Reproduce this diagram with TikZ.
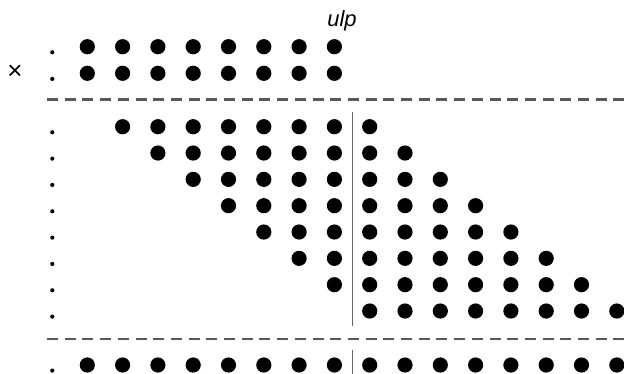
\documentclass[tikz,border=0pt]{standalone}
\usepackage{fontspec}
\setmainfont{Liberation Sans}
\begin{document}
\begin{tikzpicture}[x=1pt,y=-1pt,
  bigdot/.style={fill=black,draw=none},
  smalldot/.style={fill=black,draw=none},
  sepline/.style={draw=black!65,line width=2.2pt,dash pattern=on 11pt off 6.7pt},
  vline/.style={draw=black!60,line width=1.5pt}]
\useasboundingbox (0,0) rectangle (624,374);
% top rows
\foreach \r/\y in {0/46.7,1/73.3}{
  \fill[smalldot] (52.3,\y+5.6) circle (2.1);
  \foreach \c in {0,...,7}{\fill[bigdot] ({87.3+35.3*\c},\y) circle (7.6);}
}
\node[font=\fontsize{22}{22}\selectfont\itshape,inner sep=0pt] (ulp) at (342,20.5) {ulp};
\node[font=\fontsize{26}{26}\selectfont,inner sep=0pt] (times) at (15,72) {×};
% upper separator
\draw[sepline] (47,99.5) -- (624,99.5);
% middle rows
\foreach \k in {0,...,7}{
  \pgfmathsetmacro{\y}{126.7+26.33*\k}
  \fill[smalldot] (52.3,\y+5.6) circle (2.1);
  \pgfmathtruncatemacro{\a}{\k+1}
  \pgfmathtruncatemacro{\b}{\k+8}
  \foreach \c in {\a,...,\b}{\fill[bigdot] ({87.3+35.3*\c},\y) circle (7.6);}
}
\draw[vline] (352.3,112.3) -- (352.3,326);
% lower separator
\draw[sepline] (47,338.7) -- (624,338.7);
% bottom row
\fill[smalldot] (52.3,370.6) circle (2.1);
\foreach \c in {0,...,15}{\fill[bigdot] ({87.3+35.3*\c},365) circle (7.6);}
\draw[vline] (352.3,350) -- (352.3,374);
\end{tikzpicture}
\end{document}
